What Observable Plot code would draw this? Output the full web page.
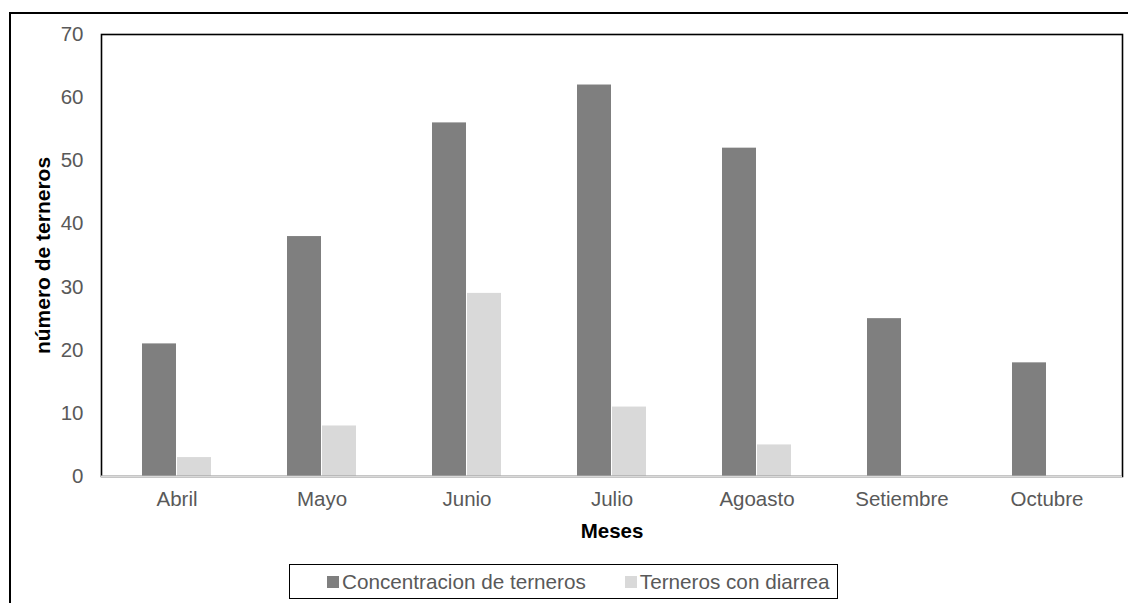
<!DOCTYPE html>
<html>
<head>
<meta charset="utf-8">
<script src="https://cdn.jsdelivr.net/npm/d3@7"></script>
<script src="https://cdn.jsdelivr.net/npm/@observablehq/plot@0.6"></script>
<style>
  html, body { margin: 0; padding: 0; background: #fff; width: 1128px; height: 603px; overflow: hidden; }
  #wrap { position: relative; width: 1128px; height: 603px; font-family: "Liberation Sans", Arial, sans-serif; }
  #outer { position: absolute; left: 9px; top: 12px; width: 1140px; height: 620px; border: 2px solid #000; box-sizing: border-box; }
  #chart { position: absolute; left: 0; top: 0; }
  #legend { position: absolute; left: 289px; top: 564px; width: 549px; height: 35px; border: 1.5px solid #000; box-sizing: border-box;
            display: flex; align-items: center; justify-content: flex-start; padding-left: 37px; gap: 39px; font-size: 20.7px; color: #595959; background: #fff; }
  .item { display: flex; align-items: center; gap: 3px; }
  .sw { width: 12px; height: 12px; display: inline-block; }
</style>
</head>
<body>
<div id="wrap">
  <div id="outer"></div>
  <div id="chart"></div>
  <div id="legend"></div>
</div>
<script>
const months = ["Abril", "Mayo", "Junio", "Julio", "Agoasto", "Setiembre", "Octubre"];
const series = ["Concentracion de terneros", "Terneros con diarrea"];
const concentracion = [21, 38, 56, 62, 52, 25, 18];
const diarrea = [3, 8, 29, 11, 5, 0, 0];
const colors = ["#7f7f7f", "#d9d9d9"];
const yTicks = [0, 10, 20, 30, 40, 50, 60, 70];

const dataA = months.map((m, i) => ({month: m, value: concentracion[i]}));
const dataB = months.map((m, i) => ({month: m, value: diarrea[i]}));

const half = 35;

const plot = Plot.plot({
  width: 1128,
  height: 603,
  marginLeft: 101,
  marginRight: 6,
  marginTop: 34,
  marginBottom: 127,
  style: {fontFamily: "'Liberation Sans', Arial, sans-serif", fontSize: "20.5px", background: "transparent"},
  x: {domain: months, paddingInner: 0.524, paddingOuter: 0.262, label: null},
  y: {domain: [0, 70], label: null},
  marks: [
    Plot.barY(dataA, {x: "month", y: "value", fill: colors[0], insetRight: half, insetLeft: 0}),
    Plot.barY(dataB, {x: "month", y: "value", fill: colors[1], insetLeft: half, insetRight: 0}),
    Plot.frame({stroke: "#000", strokeWidth: 1.6}),
    Plot.ruleY([0], {stroke: "#d9d9d9", strokeWidth: 2}),
    Plot.axisY({ticks: yTicks, tickSize: 0, tickPadding: 18, fill: "#595959", label: null}),
    Plot.axisX({tickSize: 0, tickPadding: 15, fill: "#595959", label: null}),
    Plot.text(["número de terneros"], {frameAnchor: "left", textAnchor: "middle", dx: -58, rotate: -90, fontWeight: "bold", fontSize: 21, fill: "#000"}),
    Plot.text(["Meses"], {frameAnchor: "bottom", dy: 61, fontWeight: "bold", fontSize: 20.5, fill: "#000"})
  ]
});
document.getElementById("chart").appendChild(plot);

const legend = document.getElementById("legend");
series.forEach((s, i) => {
  const it = document.createElement("span");
  it.className = "item";
  const sw = document.createElement("span");
  sw.className = "sw";
  sw.style.background = colors[i];
  const t = document.createElement("span");
  t.textContent = s;
  it.appendChild(sw);
  it.appendChild(t);
  legend.appendChild(it);
});
</script>
</body>
</html>
